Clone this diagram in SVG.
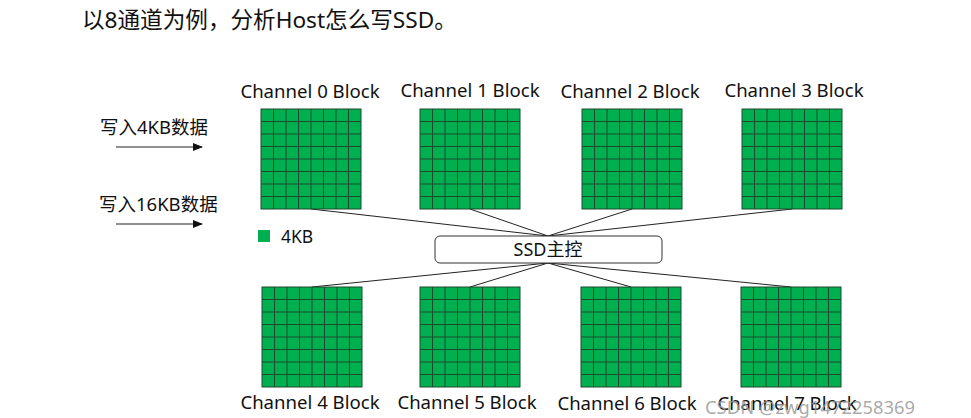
<svg xmlns="http://www.w3.org/2000/svg" xmlns:xlink="http://www.w3.org/1999/xlink" width="971" height="418" viewBox="0 0 971 418">
<style>
text{font-family:"Noto Sans","Noto Sans CJK SC",sans-serif;fill:#111}
.lbl{font-size:18.6px;text-anchor:middle}
.cn{font-size:18.5px}
.conn{stroke:#222;stroke-width:1;fill:none}
.cell{fill:#00B050;stroke:#1d4a2b;stroke-width:1}
.gl{stroke:#1d4a2b;stroke-width:1}
</style>
<defs>
<g id="grid">
<rect class="cell" x="0" y="0" width="100" height="100"/>
<path class="gl" d="M12.5 0V100M25 0V100M37.5 0V100M50 0V100M62.5 0V100M75 0V100M87.5 0V100M0 12.5H100M0 25H100M0 37.5H100M0 50H100M0 62.5H100M0 75H100M0 87.5H100"/>
</g>
<marker id="arr" markerWidth="10" markerHeight="8" refX="9" refY="4" orient="auto" markerUnits="userSpaceOnUse">
<path d="M0 0L10 4L0 8Z" fill="#111"/>
</marker>
</defs>
<text x="82" y="28" style="font-size:22.6px">以8通道为例，分析Host怎么写SSD。</text>
<g id="input4k">
<text class="cn" x="100" y="134">写入4KB数据</text>
<line class="conn" x1="116" y1="147" x2="202" y2="147" marker-end="url(#arr)"/>
</g>
<g id="input16k">
<text class="cn" x="99" y="211">写入16KB数据</text>
<line class="conn" x1="116" y1="224" x2="202" y2="224" marker-end="url(#arr)"/>
</g>
<g id="legend">
<rect x="258" y="230" width="12" height="12" fill="#00B050"/>
<text x="281" y="243" style="font-size:17.5px">4KB</text>
</g>
<g id="connectors">
<path class="conn" d="M311 209L548 236M470 209L548 236M632 209L548 236M792 209L548 236"/>
<path class="conn" d="M312 287L548 263M470 287L548 263M631 287L548 263M791 287L548 263"/>
</g>
<g id="ch0"><use xlink:href="#grid" x="261" y="109"/><text class="lbl" x="310" y="98">Channel 0 Block</text></g>
<g id="ch1"><use xlink:href="#grid" x="420" y="109"/><text class="lbl" x="470" y="97">Channel 1 Block</text></g>
<g id="ch2"><use xlink:href="#grid" x="582" y="109"/><text class="lbl" x="630" y="98">Channel 2 Block</text></g>
<g id="ch3"><use xlink:href="#grid" x="742" y="109"/><text class="lbl" x="794" y="97">Channel 3 Block</text></g>
<g id="ssd">
<rect x="435" y="236" width="227" height="27" rx="5" fill="#fff" stroke="#333" stroke-width="1"/>
<text x="548" y="256" style="font-size:18px;text-anchor:middle">SSD主控</text>
</g>
<g id="ch4"><use xlink:href="#grid" x="262" y="287"/><text class="lbl" x="310" y="409">Channel 4 Block</text></g>
<g id="ch5"><use xlink:href="#grid" x="420" y="287"/><text class="lbl" x="467" y="409">Channel 5 Block</text></g>
<g id="ch6"><use xlink:href="#grid" x="581" y="287"/><text class="lbl" x="627" y="410">Channel 6 Block</text></g>
<g id="ch7"><use xlink:href="#grid" x="741" y="287"/><text class="lbl" x="787" y="410">Channel 7 Block</text></g>
<text x="705" y="414" style="font-size:18.4px;fill:#9a9a9a;fill-opacity:0.85">CSDN @zwg1472258369</text>
</svg>
